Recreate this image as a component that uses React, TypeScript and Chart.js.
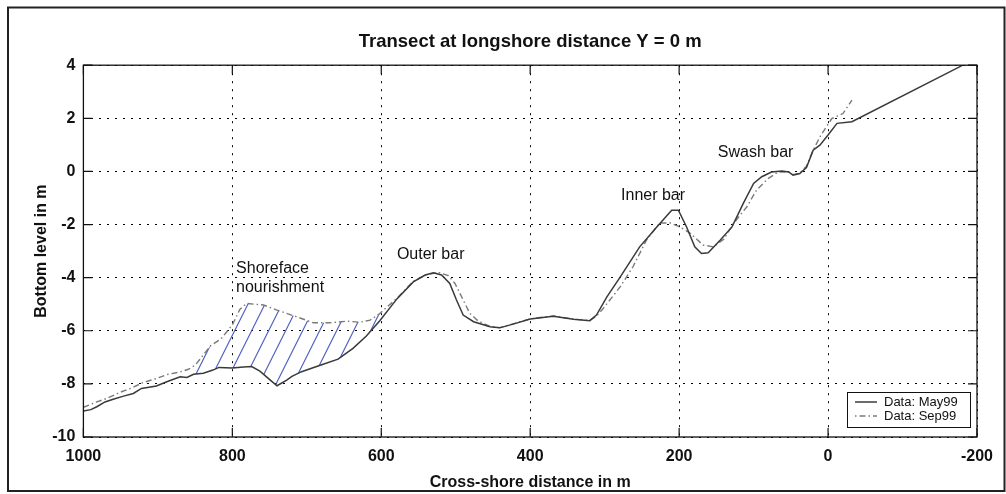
import React, { useEffect, useRef } from "react";
import { Chart, registerables } from "chart.js";

Chart.register(...registerables);

// ---- Data ----
const crossShoreMay99 = [
  1000, 990, 982, 971, 960, 946, 933, 922, 902, 888, 870, 861, 852, 839, 826, 818, 800, 785, 774, 763,
  749, 740, 727, 720, 707, 682, 658, 638, 620, 602, 579, 557, 541, 530, 519, 508, 499, 490, 476, 454,
  441, 423, 400, 369, 342, 320, 311, 297, 279, 253, 230, 210, 201, 190, 179, 170, 161, 145, 129, 114,
  100, 89, 76, 62, 53, 47, 38, 29, 20, 11, 0, -12, -32, -181,
];
const levelMay99 = [
  -9.02, -8.97, -8.86, -8.68, -8.58, -8.46, -8.36, -8.17, -8.08, -7.92, -7.73, -7.76, -7.64, -7.6, -7.48, -7.38, -7.4, -7.36, -7.35, -7.52,
  -7.86, -8.07, -7.86, -7.72, -7.54, -7.3, -7.07, -6.66, -6.2, -5.62, -4.8, -4.16, -3.9, -3.82, -3.9, -4.22, -4.84, -5.41, -5.66, -5.85,
  -5.89, -5.75, -5.56, -5.45, -5.57, -5.62, -5.41, -4.72, -3.97, -2.84, -2.09, -1.46, -1.46, -2.09, -2.84, -3.09, -3.06, -2.59, -2.09, -1.21,
  -0.45, -0.2, -0.02, 0.02, -0.02, -0.14, -0.08, 0.15, 0.8, 0.99, 1.37, 1.81, 1.87, 4.0,
];
const crossShoreSep99 = [
  1000, 982, 969, 951, 935, 920, 902, 888, 870, 859, 850, 840, 830, 815, 800, 790, 781, 758, 740, 714,
  691, 669, 646, 629, 615, 602, 579, 557, 541, 523, 510, 501, 490, 481, 470, 454, 441, 423, 400, 369,
  342, 320, 311, 302, 279, 262, 244, 226, 212, 199, 185, 168, 154, 140, 127, 109, 96, 80, 67, 53,
  47, 38, 29, 20, 10, -5, -20, -32,
];
const levelSep99 = [
  -8.88, -8.68, -8.55, -8.32, -8.15, -7.95, -7.8, -7.65, -7.55, -7.45, -7.3, -6.95, -6.58, -6.3, -5.78, -5.2, -4.97, -5.03, -5.22, -5.47,
  -5.7, -5.7, -5.64, -5.68, -5.6, -5.35, -4.78, -4.14, -3.9, -3.8, -3.92, -4.22, -4.84, -5.35, -5.63, -5.84, -5.88, -5.74, -5.55, -5.44,
  -5.56, -5.61, -5.45, -5.16, -4.34, -3.59, -2.59, -1.94, -1.94, -2.09, -2.33, -2.77, -2.84, -2.55, -1.96, -1.33, -0.7, -0.26, -0.02, -0.02,
  -0.12, -0.06, 0.2, 0.8, 1.35, 1.99, 2.18, 2.68,
];
const seriesLabels = ["Data: May99", "Data: Sep99"];
const titleText = "Transect at longshore distance Y = 0 m";
const xAxisTitle = "Cross-shore distance in m";
const yAxisTitle = "Bottom level in m";
const xRange = [-200, 1000];
const yRange = [-10, 4];
const tickStep = 2;
const xTickStep = 200;
// Nourishment area (cross-shore extent, m)
const nourishmentStart = 850;
const nourishmentEnd = 600;
// Annotations: text anchored in data coordinates (cross-shore m, level m)
const annotationText = ["Outer bar", "Inner bar", "Swash bar", "Shoreface", "nourishment"];
const annotationX = [579, 278, 148, 795, 795];
const annotationY = [-3.3, -1.08, 0.54, -3.83, -4.54];

const FONT = "'Liberation Sans', Arial, Helvetica, sans-serif";
const INK = "#111";

function interp(xs: number[], ys: number[], x: number): number {
  for (let i = 0; i < xs.length - 1; i++) {
    if (xs[i] >= x && xs[i + 1] <= x) {
      const t = (xs[i] - x) / (xs[i] - xs[i + 1] || 1);
      return ys[i] + t * (ys[i + 1] - ys[i]);
    }
  }
  return ys[ys.length - 1];
}

const decorPlugin = {
  id: "decor",
  beforeDatasetsDraw(chart: any) {
    const { ctx, chartArea, scales } = chart;
    const xs = scales.x;
    const ys = scales.y;
    // hatched nourishment area between the two surveys
    const poly: [number, number][] = [];
    poly.push([nourishmentStart, interp(crossShoreSep99, levelSep99, nourishmentStart)]);
    crossShoreSep99.forEach((x, i) => {
      if (x < nourishmentStart && x > nourishmentEnd) poly.push([x, levelSep99[i]]);
    });
    poly.push([nourishmentEnd, interp(crossShoreSep99, levelSep99, nourishmentEnd)]);
    poly.push([nourishmentEnd, interp(crossShoreMay99, levelMay99, nourishmentEnd)]);
    for (let i = crossShoreMay99.length - 1; i >= 0; i--) {
      const x = crossShoreMay99[i];
      if (x > nourishmentEnd && x < nourishmentStart) poly.push([x, levelMay99[i]]);
    }
    poly.push([nourishmentStart, interp(crossShoreMay99, levelMay99, nourishmentStart)]);

    ctx.save();
    ctx.beginPath();
    poly.forEach(([x, y], i) => {
      const px = xs.getPixelForValue(x);
      const py = ys.getPixelForValue(y);
      if (i === 0) ctx.moveTo(px, py);
      else ctx.lineTo(px, py);
    });
    ctx.closePath();
    ctx.clip();
    ctx.strokeStyle = "#4a5bc0";
    ctx.lineWidth = 1.1;
    const { left, top, right, bottom } = chartArea;
    const h = bottom - top;
    const spacing = 17;
    for (let c = 12; c < right - left + 0.5 * h; c += spacing) {
      ctx.beginPath();
      ctx.moveTo(left + c, top);
      ctx.lineTo(left + c - 0.5 * h, bottom);
      ctx.stroke();
    }
    ctx.restore();
  },
  afterDraw(chart: any) {
    const { ctx, chartArea, scales } = chart;
    const { left, top, right, bottom } = chartArea;
    const xs = scales.x;
    const ys = scales.y;
    ctx.save();
    // plot box
    ctx.strokeStyle = "#111";
    ctx.lineWidth = 1.3;
    ctx.strokeRect(left, top, right - left, bottom - top);
    // inward ticks
    const tl = 9;
    ctx.lineWidth = 1.2;
    ctx.beginPath();
    ys.ticks.forEach((t: any) => {
      const py = ys.getPixelForValue(t.value);
      ctx.moveTo(left, py);
      ctx.lineTo(left + tl, py);
      ctx.moveTo(right, py);
      ctx.lineTo(right - tl, py);
    });
    xs.ticks.forEach((t: any) => {
      const px = xs.getPixelForValue(t.value);
      ctx.moveTo(px, bottom);
      ctx.lineTo(px, bottom - tl);
      ctx.moveTo(px, top);
      ctx.lineTo(px, top + tl);
    });
    ctx.stroke();

    // annotations
    ctx.fillStyle = INK;
    ctx.font = `16px ${FONT}`;
    ctx.textAlign = "left";
    ctx.textBaseline = "alphabetic";
    annotationText.forEach((txt, i) => {
      ctx.fillText(txt, xs.getPixelForValue(annotationX[i]), ys.getPixelForValue(annotationY[i]));
    });

    // legend box
    const lw = 123;
    const lh = 35;
    const lx = right - 7 - lw;
    const lyy = bottom - 10 - lh;
    ctx.fillStyle = "#fff";
    ctx.fillRect(lx, lyy, lw, lh);
    ctx.strokeStyle = "#111";
    ctx.lineWidth = 1;
    ctx.strokeRect(lx + 0.5, lyy + 0.5, lw, lh);
    const ds = chart.data.datasets;
    ds.forEach((d: any, i: number) => {
      const rowY = lyy + 10 + i * 14;
      ctx.save();
      ctx.strokeStyle = d.borderColor;
      ctx.lineWidth = d.borderWidth;
      ctx.setLineDash(d.borderDash || []);
      ctx.lineDashOffset = d.borderDash ? 9 : 0;
      ctx.beginPath();
      ctx.moveTo(lx + 8, rowY);
      ctx.lineTo(lx + 30, rowY);
      ctx.stroke();
      ctx.restore();
      ctx.fillStyle = INK;
      ctx.font = `13px ${FONT}`;
      ctx.textAlign = "left";
      ctx.textBaseline = "middle";
      ctx.fillText(d.label, lx + 37, rowY + 0.5);
    });

    // outer frame
    ctx.strokeStyle = "#222";
    ctx.lineWidth = 2;
    ctx.strokeRect(8, 7.5, 996.5, 483.5);
    ctx.restore();
  },
};

export default function App() {
  const ref = useRef<HTMLCanvasElement>(null);
  useEffect(() => {
    if (!ref.current) return;
    const chart = new Chart(ref.current, {
      type: "line",
      data: {
        datasets: [
          {
            label: seriesLabels[0],
            data: crossShoreMay99.map((x, i) => ({ x, y: levelMay99[i] })),
            borderColor: "#3a3a3a",
            borderWidth: 1.5,
            pointRadius: 0,
            tension: 0,
            fill: false,
          },
          {
            label: seriesLabels[1],
            data: crossShoreSep99.map((x, i) => ({ x, y: levelSep99[i] })),
            borderColor: "#7a7a7a",
            borderWidth: 1.4,
            borderDash: [6, 3, 1.5, 3],
            pointRadius: 0,
            tension: 0,
            fill: false,
          },
        ],
      },
      options: {
        animation: false,
        responsive: false,
        maintainAspectRatio: false,
        devicePixelRatio: 1,
        layout: { padding: { left: 20, right: 29, top: 0, bottom: 0 } },
        plugins: {
          legend: { display: false },
          tooltip: { enabled: false },
          title: {
            display: true,
            text: titleText,
            fullSize: false,
            color: INK,
            font: { family: FONT, size: 18.5, weight: "bold" },
            padding: { top: 31, bottom: 12 },
          },
        },
        scales: {
          x: {
            type: "linear",
            reverse: true,
            min: xRange[0],
            max: xRange[1],
            ticks: {
              stepSize: xTickStep,
              color: INK,
              padding: 10.4,
              font: { family: FONT, size: 16, weight: "bold" },
              maxRotation: 0,
              callback: (v: any) => String(v),
            },
            grid: { color: "#000", lineWidth: 1, drawTicks: false },
            border: { display: false, dash: [2, 6] },
            title: {
              display: true,
              text: xAxisTitle,
              color: INK,
              font: { family: FONT, size: 16, weight: "bold" },
              padding: { top: 0, bottom: 1.4 },
            },
            afterFit: (s: any) => {
              s.height = 57;
              s.paddingLeft = 0;
              s.paddingRight = 0;
            },
          },
          y: {
            type: "linear",
            min: yRange[0],
            max: yRange[1],
            ticks: {
              stepSize: tickStep,
              color: INK,
              padding: 8,
              font: { family: FONT, size: 16, weight: "bold" },
              callback: (v: any) => String(v),
            },
            grid: { color: "#000", lineWidth: 1, drawTicks: false },
            border: { display: false, dash: [2, 6] },
            title: {
              display: true,
              text: yAxisTitle,
              color: INK,
              font: { family: FONT, size: 16, weight: "bold" },
              padding: { top: 12, bottom: 0 },
            },
            afterFit: (s: any) => {
              s.width = 63.4;
              s.paddingTop = 0;
              s.paddingBottom = 0;
            },
          },
        },
      },
      plugins: [decorPlugin],
    } as any);
    return () => chart.destroy();
  }, []);
  return (
    <div style={{ position: "absolute", left: 0, top: 0, width: 1006, height: 494, background: "#fff" }}>
      <canvas ref={ref} width={1006} height={494} style={{ display: "block", width: 1006, height: 494 }} />
    </div>
  );
}
